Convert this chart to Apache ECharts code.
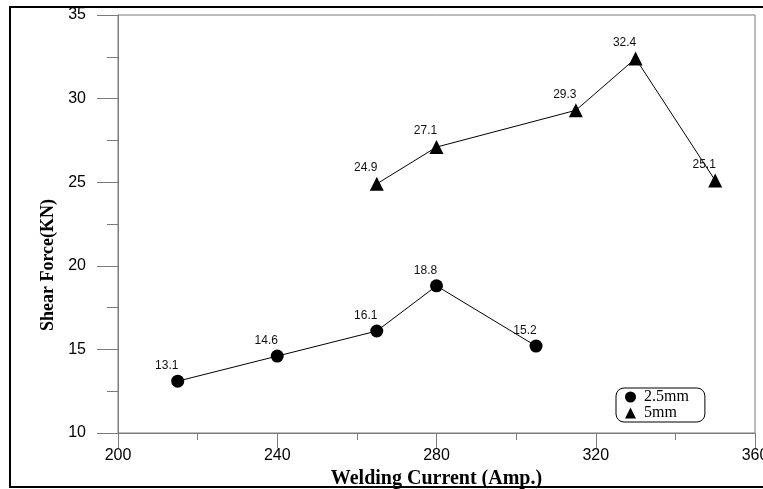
<!DOCTYPE html>
<html>
<head>
<meta charset="utf-8">
<script src="https://cdn.jsdelivr.net/npm/echarts@6/dist/echarts.min.js"></script>
<style>
html,body{margin:0;padding:0;background:#fff;}
#chart{width:763px;height:489px;}
</style>
</head>
<body>
<div id="chart"></div>
<script>
const current25 = [215, 240, 265, 280, 305];
const force25 = [13.1, 14.6, 16.1, 18.8, 15.2];
const current5 = [265, 280, 315, 330, 350];
const force5 = [24.9, 27.1, 29.3, 32.4, 25.1];
const seriesNames = ['2.5mm', '5mm'];
const xTitle = 'Welding Current (Amp.)';
const yTitle = 'Shear Force(KN)';

const chart = echarts.init(document.getElementById('chart'), null, {renderer: 'canvas'});
const pairs = (xs, ys) => xs.map((x, i) => [x, ys[i]]);
const axisGray = '#7a7a7a';
const labelStyle = {
  show: true, position: 'top', distance: 3, offset: [-11, 0],
  fontFamily: 'Liberation Sans, Arial', fontSize: 12, color: '#111',
  formatter: p => p.value[1].toFixed(1)
};

chart.setOption({
  animation: false,
  backgroundColor: '#fff',
  grid: {left: 118, right: 8, top: 15, bottom: 56, show: true, borderColor: axisGray, borderWidth: 1,
         containLabel: false, outerBoundsMode: 'none'},
  graphic: [
    {type: 'rect', shape: {x: 10, y: 7, width: 800, height: 480}, style: {fill: null, stroke: '#000', lineWidth: 2}, silent: true, z: -1},
    {type: 'text', x: 48, y: 265, rotation: Math.PI / 2,
     style: {text: yTitle, fontFamily: 'Liberation Serif, Times New Roman', fontWeight: 'bold', fontSize: 18, fill: '#000', textAlign: 'center', textVerticalAlign: 'middle'}}
  ],
  legend: {
    orient: 'vertical', left: 616, top: 388,
    data: [{name: seriesNames[0], icon: 'circle'}, {name: seriesNames[1], icon: 'triangle'}],
    borderColor: '#000', borderWidth: 1, borderRadius: 8,
    padding: [1, 16, 1, 9], itemGap: 0, itemWidth: 11, itemHeight: 11,
    textStyle: {fontFamily: 'Liberation Serif, Times New Roman', fontSize: 16, lineHeight: 14, color: '#000', padding: [0, 0, 0, 3]}
  },
  xAxis: {
    type: 'value', min: 200, max: 360, interval: 40,
    name: xTitle, nameLocation: 'middle', nameGap: 31,
    nameTextStyle: {fontFamily: 'Liberation Serif, Times New Roman', fontWeight: 'bold', fontSize: 20, color: '#000'},
    axisLine: {show: true, lineStyle: {color: axisGray, width: 1}},
    axisTick: {show: true, length: 15, lineStyle: {color: axisGray}},
    minorTick: {show: true, splitNumber: 2, length: 7, lineStyle: {color: axisGray}},
    axisLabel: {fontFamily: 'Liberation Sans, Arial', fontSize: 16, color: '#000', margin: 15},
    splitLine: {show: false}
  },
  yAxis: {
    type: 'value', min: 10, max: 35, interval: 5,
    axisLine: {show: true, lineStyle: {color: axisGray, width: 1}},
    axisTick: {show: true, length: 21, lineStyle: {color: axisGray}},
    minorTick: {show: true, splitNumber: 2, length: 11, lineStyle: {color: axisGray}},
    axisLabel: {fontFamily: 'Liberation Sans, Arial', fontSize: 16, color: '#000', margin: 32},
    splitLine: {show: false}
  },
  series: [
    {name: seriesNames[0], type: 'line', data: pairs(current25, force25),
     symbol: 'circle', symbolSize: 13, itemStyle: {color: '#000'},
     lineStyle: {color: '#000', width: 1}, label: labelStyle},
    {name: seriesNames[1], type: 'line', data: pairs(current5, force5),
     symbol: 'triangle', symbolSize: 14, itemStyle: {color: '#000'},
     lineStyle: {color: '#000', width: 1}, label: labelStyle}
  ]
});
</script>
</body>
</html>
